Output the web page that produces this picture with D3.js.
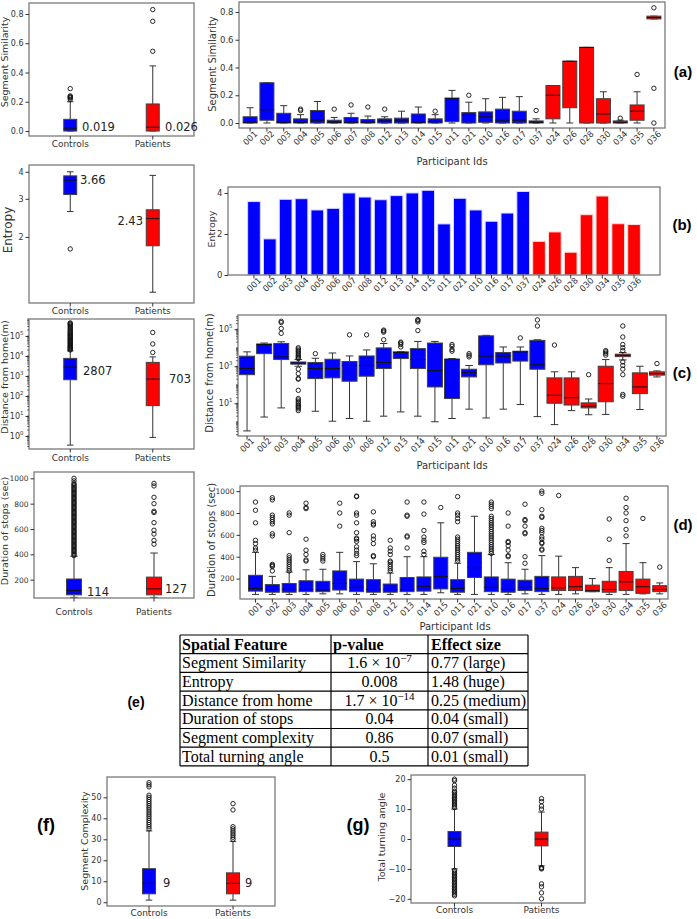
<!DOCTYPE html>
<html><head><meta charset="utf-8">
<script src="https://cdn.jsdelivr.net/npm/d3@7"></script>
<style>body{margin:0;background:#fff} svg{display:block}</style>
</head><body>
<svg id="c" width="697" height="919" font-family="DejaVu Sans"></svg>
<script>
// ---------------- DATA ----------------
const participantIds = ["001","002","003","004","005","006","007","008","012","013","014","015","011","021","010","016","017","037","024","026","028","030","034","035","036"];
const controlCount = 18;
const groupNames = ["Controls","Patients"];

// (a) Segment similarity per participant: lo, q1, med, q3, hi
const simLo  = [0,0,0,0,0,0,0,0,0,0,0,0,0,0,0,0,0,0, 0,0,0,0,0,0,0.75];
const simQ1  = [0,0.02,0,0,0,0,0,0,0,0,0,0,0.01,0,0.005,0,0,0, 0.03,0.11,0,0,0,0.02,0.75];
const simMed = [0.005,0.095,0.005,0.005,0.02,0.005,0.005,0.005,0.015,0.015,0.005,0.01,0.175,0.055,0.045,0.02,0.02,0.005, 0.2,0.445,0.545,0.065,0.005,0.085,0.76];
const simQ3  = [0.045,0.29,0.07,0.03,0.09,0.02,0.04,0.025,0.03,0.035,0.065,0.03,0.18,0.075,0.08,0.1,0.085,0.015, 0.27,0.445,0.545,0.175,0.015,0.13,0.77];
const simHi  = [0.11,0.29,0.125,0.06,0.155,0.04,0.07,0.05,0.045,0.085,0.115,0.06,0.235,0.15,0.175,0.185,0.19,0.03, 0.27,0.445,0.545,0.225,0.02,0.225,0.77];
const simFliers = [[],[],[],[0.09,0.1],[],[0.1],[0.13],[0.115],[0.1],[],[],[0.085],[],[0.2],[],[],[],[0.09],[],[],[],[],[0.035],[0.35],[0.83,0.25,0]];
const simGroupStats = [[0,0,0.019,0.08,0.2],[0,0,0.026,0.185,0.445]];
const simGroupFliers = [[0.215,0.225,0.23,0.235,0.24,0.29],[0.545,0.75,0.83]];
const simGroupLabels = ["0.019","0.026"];

// (b) Entropy
const entropyValues = [3.58,1.76,3.69,3.72,3.17,3.25,4.0,3.80,3.67,3.87,4.0,4.13,2.49,3.74,3.17,2.62,3.02,4.07,1.64,2.10,1.11,2.94,3.85,2.50,2.46];
const entropyGroupStats = [[2.62,3.14,3.66,3.83,4.0],[1.11,1.82,2.43,2.67,3.85]];
const entropyGroupFliers = [[1.76],[]];
const entropyGroupLabels = ["3.66","2.43"];

// (c) Distance from home (m)
const distLo  = [0.32,1.8,5.6,1000,3.7,1.07,1.5,1.07,2,3.4,2,1,1.5,4.8,1.6,4.8,8.5,1.9, 0.7,4,2.4,2.5,2200,4.6,265];
const distQ1  = [350,4800,2300,1300,215,235,155,290,750,2600,750,76,18,265,1200,1500,1900,690, 10,8,5.6,12,3300,33,330];
const distMed = [750,15000,3200,1500,750,750,1100,1100,1600,5500,2300,580,2400,450,3500,3500,6000,1200, 27,20,7,115,3900,76,400];
const distQ3  = [3500,16000,17000,1700,1600,2400,1800,3600,9800,6000,9000,18000,2400,690,44000,5500,6500,25000, 235,235,10.5,1000,4500,440,500];
const distHi  = [6000,18000,21000,2300,2700,5200,3600,7600,17000,6300,22000,22000,2600,1100,47000,11000,11000,27000, 500,500,17,2300,5500,1000,560];
const distFliers = [[],[],[60000,110000,230000,270000],
  [4,5,6,7,8,10,12,15,18,50,200,220,400,700,2600,3000,3500,4000,5000,6000,7000,8500,10000],
  [4800],[],[50000],[50000],[27000,70000,80000,90000],[11000,15000,18000,20000],[85000,250000,300000,330000],[],
  [6500,8000,12000,15000],[3200,3900,4800],[],[],[34000],[150000,320000],
  [14000],[],[350],[4000,5000,6000,7000],[24,30,350,700,1100,1700,7000,10000,15000,38000,150000],[],[1400]];
const distGroupStats = [[0.35,650,2807,7600,18000],[0.85,33,703,4800,9000]];
const distGroupFliers = [[20000,22000,24000,26000,28000,30000,33000,36000,40000,44000,48000,53000,58000,64000,70000,77000,85000,95000,105000,115000,130000,145000,160000,180000,200000,230000,260000,300000,340000,380000,420000,450000],[15000,40000,150000]];
const distGroupLabels = ["2807","703"];

// (d) Duration of stops (sec)
const durLo  = [55,55,55,55,60,60,55,55,55,55,55,70,55,55,55,55,60,55, 55,60,80,55,55,60,60];
const durQ1  = [85,75,75,80,80,95,80,75,75,80,85,105,75,210,80,75,90,80, 90,90,80,75,90,65,80];
const durMed = [110,100,100,100,95,155,120,100,100,100,125,220,110,300,120,100,120,110, 115,125,90,100,170,125,100];
const durQ3  = [230,145,155,180,175,270,195,190,150,210,215,395,190,440,215,195,185,220, 215,220,140,175,265,195,135];
const durHi  = [440,220,260,280,285,440,355,335,250,400,400,710,340,770,420,345,285,410, 405,300,200,300,520,345,160];
const durFliers = [
  [460,480,520,550,710,825,900],
  [270,310,320,330,590,610,700,720,740,760,780,920,940],
  [270,290,310,330,350,370,390,410,620,780,800],
  [360,370,420,460,560,840,850,890],
  [360,380,400,420],
  [680,800,890],
  [410,430,460,490,540,560,570,620,710,780,800,950,955],
  [400,410,520,560,590,690,700,720,810],
  [270,290,310,330,350,360,420,450,480,550],
  [480,580,590,770,780,900],
  [420,450,530,550,580,640,790,900],
  [850],
  [360,380,400,420,440,460,480,500,520,540,560,580,720,750,780,800,950],
  [],
  [430,450,470,490,510,530,550,570,590,610,630,650,670,690,710,730,750,770,840,860,880,900],
  [400,410,460,500,530,540,680,800],
  [340,400,610,620,680,730,740,880],
  [460,470,520,530,560,580,620,640,660,760,770,830,980,1000],
  [960],[],[],[365,560,745],[590,650,730,800,850,935],[750],[305]];
const durGroupStats = [[60,80,114,205,385],[60,80,127,220,410]];
const durGroupFliers = [[390,400,410,420,430,440,450,460,470,480,490,500,510,520,530,540,550,560,570,580,590,600,610,620,630,640,650,660,670,680,690,700,710,720,730,740,750,760,770,780,790,800,810,820,830,840,850,860,870,880,890,900,910,920,930,940,950,960,980,1000],
  [480,510,560,590,650,730,740,800,850,940,960]];
const durGroupLabels = ["114","127"];

// (e) table
const tableHeader = ["Spatial Feature","p-value","Effect size"];
const tableFeatures = ["Segment Similarity","Entropy","Distance from home","Duration of stops","Segment complexity","Total turning angle"];
const tablePBase = ["1.6 × 10","0.008","1.7 × 10","0.04","0.86","0.5"];
const tablePExp = ["−7","","−14","","",""];
const tableEffects = ["0.77 (large)","1.48 (huge)","0.25 (medium)","0.04 (small)","0.07 (small)","0.01 (small)"];

// (f) Segment complexity
const complexGroupStats = [[1,4,9,16,34],[1,4,9,14,29]];
const complexGroupFliers = [[35,36,37,38,39,40,41,42,43,44,45,46,47,48,49,50,51,55,56,57],[30,31,32,33,34,35,36,44,47]];
const complexGroupLabels = ["9","9"];

// (g) Total turning angle
const turnGroupStats = [[-10,-2.5,0,2.5,10],[-9,-2.3,0,2.3,9]];
const turnGroupFliers = [[-19,-18.5,-18,-17.5,-17,-16.5,-16,-15.5,-15,-14.5,-14,-13.5,-13,-12.5,-12,-11.5,-11,-10.5,10.5,11,11.5,12,12.5,13,13.5,14,14.5,15,15.5,16,17,18,19.5,20],
  [10,11,12.5,13.5,-9.5,-9.8,-10,-15,-16,-18,-20]];

// ---------------- DRAWING ----------------
const BLUE = "#0000ff", RED = "#ff0000";
const svg = d3.select("#c");
const colorOf = i => i < controlCount ? BLUE : RED;

function frame(x0,y0,x1,y1){
  svg.append("rect").attr("x",x0).attr("y",y0).attr("width",x1-x0).attr("height",y1-y0)
    .attr("fill","none").attr("stroke","#7a7a7a").attr("stroke-width",1.3);
}
function sup(sel){
  sel.each(function(d){
    const t = d3.select(this); const e = Math.round(Math.log10(d));
    t.text("10"); t.append("tspan").attr("dy",-4).attr("font-size","0.68em").text(e);
  });
}
function yAxis(scale, x, ticks, fmt, isLog, fs){
  const ax = d3.axisLeft(scale).tickValues(ticks).tickSize(3.5).tickPadding(2);
  if (fmt) ax.tickFormat(fmt);
  const g = svg.append("g").attr("transform",`translate(${x},0)`).call(ax);
  g.select(".domain").remove();
  g.selectAll("line").attr("stroke","#333");
  g.selectAll("text").attr("font-size",fs||8.5).attr("fill","#333").attr("font-family","DejaVu Sans");
  if (isLog) sup(g.selectAll("text"));
  return g;
}
function minorLog(scale, x, lo, hi){
  const vals = [];
  for (let e = lo; e <= hi; e++) for (let m = 1; m <= 9; m++) vals.push(m * Math.pow(10, e));
  const [d0,d1] = scale.domain();
  svg.append("g").selectAll("line").data(vals.filter(v => v >= d0 && v <= d1)).join("line")
    .attr("x1",x).attr("x2",x-2).attr("y1",d=>scale(d)).attr("y2",d=>scale(d)).attr("stroke","#333").attr("stroke-width",0.7);
}
function yLabel(txt, x, y, size){
  svg.append("text").attr("transform",`translate(${x},${y}) rotate(-90)`).attr("text-anchor","middle")
    .attr("dy","0.35em").attr("font-size",size).attr("fill","#333").text(txt);
}
function xTicks(xs, n, y, labels, rotate, labelY, fs){
  for (let i = 0; i < n; i++){
    const cx = xs(i);
    svg.append("line").attr("x1",cx).attr("x2",cx).attr("y1",y).attr("y2",y+3.5).attr("stroke","#333");
    if (rotate){
      svg.append("text").attr("transform",`translate(${cx},${labelY}) rotate(-45)`).attr("text-anchor","middle")
        .attr("dy","0.35em").attr("font-size",fs||9).attr("fill","#333").text(labels[i]);
    } else {
      svg.append("text").attr("x",cx).attr("y",labelY).attr("text-anchor","middle")
        .attr("font-size",fs||9.5).attr("fill","#333").text(labels[i]);
    }
  }
}
function boxes(xs, ys, stats, fliers, colorFn, bw){
  const g = svg.append("g");
  stats.forEach((s,i) => {
    const cx = xs(i); const [lo,q1,med,q3,hi] = s;
    const ln = (x1,y1,x2,y2,c,w) => g.append("line").attr("x1",x1).attr("y1",y1).attr("x2",x2).attr("y2",y2).attr("stroke",c).attr("stroke-width",w);
    ln(cx, ys(lo), cx, ys(q1), "#333", 1);
    ln(cx, ys(q3), cx, ys(hi), "#333", 1);
    ln(cx-bw/4, ys(lo), cx+bw/4, ys(lo), "#333", 1);
    ln(cx-bw/4, ys(hi), cx+bw/4, ys(hi), "#333", 1);
    g.append("rect").attr("x",cx-bw/2).attr("y",ys(q3)).attr("width",bw).attr("height",Math.max(0.8,ys(q1)-ys(q3)))
      .attr("fill",colorFn(i)).attr("stroke","#404040").attr("stroke-width",1);
    ln(cx-bw/2, ys(med), cx+bw/2, ys(med), "#111", 1);
    g.selectAll(null).data(fliers[i]).join("circle").attr("cx",cx).attr("cy",d=>ys(d)).attr("r",2.2)
      .attr("fill","none").attr("stroke","#111").attr("stroke-width",0.9);
  });
}
function statsOf(lo,q1,med,q3,hi){ return lo.map((_,i)=>[lo[i],q1[i],med[i],q3[i],hi[i]]); }
function valueLabels(labels, pos){
  labels.forEach((t,i)=> svg.append("text").attr("x",pos[i][0]).attr("y",pos[i][1]).attr("text-anchor",pos[i][2]||"start")
    .attr("font-size",11.5).attr("fill","#222").text(t));
}
function panelLetter(t,x,y,size){
  svg.append("text").attr("x",x).attr("y",y).attr("text-anchor","middle").attr("dy","0.35em")
    .attr("font-family","Liberation Sans").attr("font-weight","bold").attr("font-size",size).attr("fill","#000").text(t);
}
const grpColor = i => i === 0 ? BLUE : RED;

// ===== (a) left =====
{
  const xs = d3.scaleLinear().domain([-0.5,1.5]).range([29,194]);
  const ys = d3.scaleLinear().domain([-0.034,0.875]).range([136,3]);
  boxes(xs, ys, simGroupStats, simGroupFliers, grpColor, 13);
  frame(29,3,194,136);
  yAxis(ys, 29, [0,0.2,0.4,0.6,0.8], d3.format(".1f"), false, 8);
  xTicks(xs, 2, 136, groupNames, false, 147, 9);
  yLabel("Segment Similarity", 5, 62, 9.5);
  valueLabels(simGroupLabels, [[82,131],[165,131]]);
}
// ===== (a) right =====
{
  const xs = d3.scaleLinear().domain([-0.66,24.66]).range([239,665]);
  const ys = d3.scaleLinear().domain([-0.036,0.872]).range([128,2]);
  boxes(xs, ys, statsOf(simLo,simQ1,simMed,simQ3,simHi), simFliers, colorOf, 14);
  frame(239,2,665,128);
  yAxis(ys, 239, [0,0.2,0.4,0.6,0.8], d3.format(".1f"), false, 8.5);
  xTicks(xs, 25, 128, participantIds, true, 138, 8.5);
  yLabel("Segment Similarity", 212, 64, 10);
  svg.append("text").attr("x",452).attr("y",165).attr("text-anchor","middle").attr("font-size",10).attr("fill","#333").text("Participant Ids");
  panelLetter("(a)", 683, 72, 15);
}
// ===== (b) left =====
{
  const xs = d3.scaleLinear().domain([-0.5,1.5]).range([29,194]);
  const ys = d3.scaleLog().domain([0.99,4.3]).range([303,165]);
  boxes(xs, ys, entropyGroupStats, entropyGroupFliers, grpColor, 13);
  frame(29,165,194,303);
  yAxis(ys, 29, [2,3,4], d3.format("d"), false, 8);
  xTicks(xs, 2, 303, groupNames, false, 314, 9);
  yLabel("Entropy", 8, 230, 12);
  valueLabels(entropyGroupLabels, [[80,184],[143,225,"end"]]);
}
// ===== (b) right =====
{
  const xs = d3.scaleLinear().domain([-1.64,25.64]).range([228,660]);
  const ys = d3.scaleLinear().domain([0,4.29]).range([275,187]);
  const bw = xs(0.8) - xs(0);
  svg.append("g").selectAll("rect").data(entropyValues).join("rect")
    .attr("x",(d,i)=>xs(i)-bw/2).attr("y",d=>ys(d)).attr("width",bw).attr("height",d=>ys(0)-ys(d))
    .attr("fill",(d,i)=>colorOf(i)).attr("stroke",(d,i)=> i<controlCount ? "#d8d8ff" : "#ffd8d8").attr("stroke-width",1);
  frame(228,187,660,275);
  yAxis(ys, 228, [0,2,4], d3.format("d"), false, 8.5);
  xTicks(xs, 25, 275, participantIds, true, 284.5, 8.5);
  yLabel("Entropy", 212, 229, 9.5);
  panelLetter("(b)", 682, 225, 15);
}
// ===== (c) left =====
{
  const xs = d3.scaleLinear().domain([-0.5,1.5]).range([29,194]);
  const ys = d3.scaleLog().domain([Math.pow(10,-0.65),Math.pow(10,5.85)]).range([449,319]);
  boxes(xs, ys, distGroupStats, distGroupFliers, grpColor, 13);
  frame(29,319,194,449);
  minorLog(ys, 29, -1, 5);
  yAxis(ys, 29, [1,10,100,1000,10000,100000], null, true, 8);
  xTicks(xs, 2, 449, groupNames, false, 460.5, 9);
  yLabel("Distance from home(m)", 5, 377, 9.5);
  valueLabels(distGroupLabels, [[83,375],[169,383]]);
}
// ===== (c) right =====
{
  const xs = d3.scaleLinear().domain([-0.53,24.53]).range([238,666]);
  const ys = d3.scaleLog().domain([Math.pow(10,-0.77),Math.pow(10,5.77)]).range([436,315]);
  boxes(xs, ys, statsOf(distLo,distQ1,distMed,distQ3,distHi), distFliers, colorOf, 15);
  frame(238,315,666,436);
  minorLog(ys, 238, -1, 5);
  yAxis(ys, 238, [10,1000,100000], null, true, 8);
  xTicks(xs, 25, 436, participantIds, true, 445, 8.5);
  yLabel("Distance from home(m)", 209, 373, 10);
  svg.append("text").attr("x",452).attr("y",469).attr("text-anchor","middle").attr("font-size",10).attr("fill","#333").text("Participant Ids");
  panelLetter("(c)", 682, 373, 15);
}
// ===== (d) left =====
{
  const xs = d3.scaleLinear().domain([-0.5,1.5]).range([34,194]);
  const ys = d3.scaleLinear().domain([55,1050]).range([598,472]);
  boxes(xs, ys, durGroupStats, durGroupFliers, grpColor, 15);
  frame(34,472,194,598);
  yAxis(ys, 34, [200,400,600,800,1000], d3.format("d"), false, 7.5);
  xTicks(xs, 2, 598, groupNames, false, 615, 9);
  yLabel("Duration of stops (sec)", 5, 531, 9.5);
  valueLabels(durGroupLabels, [[87,596],[165,593]]);
}
// ===== (d) right =====
{
  const xs = d3.scaleLinear().domain([-0.92,24.49]).range([240,668]);
  const ys = d3.scaleLinear().domain([13,1047]).range([599,486]);
  boxes(xs, ys, statsOf(durLo,durQ1,durMed,durQ3,durHi), durFliers, colorOf, 14);
  frame(240,486,668,599);
  yAxis(ys, 240, [200,400,600,800,1000], d3.format("d"), false, 7.5);
  xTicks(xs, 25, 599, participantIds, true, 609, 8.5);
  yLabel("Duration of stops (sec)", 211, 540, 10);
  svg.append("text").attr("x",455).attr("y",630).attr("text-anchor","middle").attr("font-size",10).attr("fill","#333").text("Participant Ids");
  panelLetter("(d)", 683, 525, 15);
}
// ===== (e) table =====
{
  const colX = [180,331,428,528];
  const top = 635, rh = 18.7, nRows = tableFeatures.length + 1;
  const g = svg.append("g");
  for (let r = 0; r <= nRows; r++)
    g.append("line").attr("x1",colX[0]).attr("x2",colX[3]).attr("y1",top+r*rh).attr("y2",top+r*rh).attr("stroke","#000").attr("stroke-width",1.2);
  colX.forEach(x => g.append("line").attr("x1",x).attr("x2",x).attr("y1",top).attr("y2",top+nRows*rh).attr("stroke","#000").attr("stroke-width",1.2));
  const tx = (x,y,t,anchor,bold) => g.append("text").attr("x",x).attr("y",y).attr("text-anchor",anchor||"start")
      .attr("font-family","Liberation Serif").attr("font-size",16).attr("font-weight",bold?"bold":"normal").attr("fill","#000").text(t);
  tx(colX[0]+2, top+14.5, tableHeader[0], "start", true);
  tx(colX[1]+2, top+14.5, tableHeader[1], "start", true);
  tx(colX[2]+3, top+14.5, tableHeader[2], "start", true);
  tableFeatures.forEach((f,i) => {
    const y = top + (i+1)*rh + 14.5;
    tx(colX[0]+2, y, f);
    const t = tx((colX[1]+colX[2])/2, y, tablePBase[i], "middle");
    if (tablePExp[i]) t.append("tspan").attr("dy",-6).attr("font-size",11).text(tablePExp[i]);
    tx(colX[2]+3, y, tableEffects[i]);
  });
  panelLetter("(e)", 136, 702, 14);
}
// ===== (f) =====
{
  const xs = d3.scaleLinear().domain([-0.5,1.5]).range([107,275]);
  const ys = d3.scaleLinear().domain([-1.8,59.7]).range([906,777]);
  boxes(xs, ys, complexGroupStats, complexGroupFliers, grpColor, 13);
  frame(107,777,275,906);
  yAxis(ys, 107, [0,10,20,30,40,50], d3.format("d"), false, 8);
  xTicks(xs, 2, 906, groupNames, false, 916, 9);
  yLabel("Segment Complexity", 85, 841, 9.5);
  valueLabels(complexGroupLabels, [[163,887],[245,887]]);
  panelLetter("(f)", 46, 825, 18);
}
// ===== (g) =====
{
  const xs = d3.scaleLinear().domain([-0.5,1.5]).range([411,585]);
  const ys = d3.scaleLinear().domain([-21.4,21.4]).range([903,775]);
  boxes(xs, ys, turnGroupStats, turnGroupFliers, grpColor, 13);
  frame(411,775,585,903);
  yAxis(ys, 411, [-20,-10,0,10,20], d => d < 0 ? "−" + Math.abs(d) : String(d), false, 8);
  xTicks(xs, 2, 903, groupNames, false, 913, 9);
  yLabel("Total turning angle", 382, 837, 9.5);
  panelLetter("(g)", 358, 825, 18);
}
</script>
</body></html>
